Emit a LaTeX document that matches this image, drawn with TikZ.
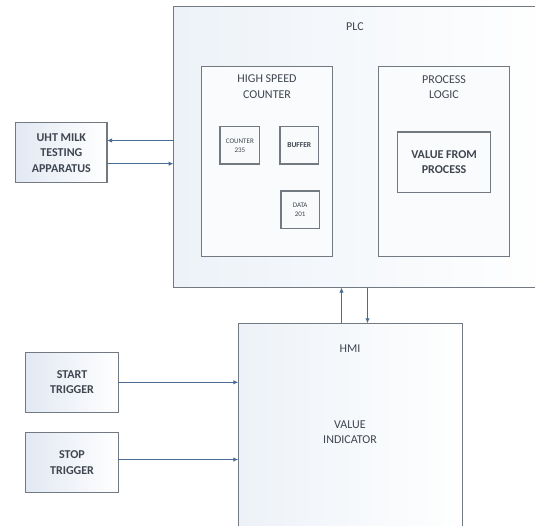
\documentclass[tikz,border=0pt]{standalone}
\usepackage{fontspec}
\setmainfont{Carlito}
\usetikzlibrary{arrows.meta}
\definecolor{edge}{HTML}{737980}
\definecolor{arrowc}{HTML}{4A6B92}
\definecolor{txt}{HTML}{3F4650}
\definecolor{shade}{HTML}{E2E9F3}
\definecolor{paleshade}{HTML}{EDF2F8}
\tikzset{
  anybox/.style={draw=edge, line width=1.35pt, rectangle, inner sep=0pt, outer sep=0pt,
    align=center, text=txt},
  outerbox/.style={anybox, left color=shade, right color=white,
    font=\fontsize{12}{15.5}\selectfont\bfseries},
  bigbox/.style={anybox, left color=paleshade, right color=white!97!paleshade},
  innerbox/.style={anybox, fill=white!70!paleshade},
  smallbox/.style={anybox, fill=white!60!paleshade, font=\fontsize{7}{9}\selectfont},
  lbl/.style={align=center, text=txt, inner sep=0pt, font=\fontsize{12}{15.5}\selectfont},
  arr/.style={draw=arrowc, line width=1.2pt, -{Latex[length=5pt,width=4.5pt]}}
}
\begin{document}
\begin{tikzpicture}[x=1pt,y=-1pt]
\clip (0,0) rectangle (535,525);
\fill[white] (0,0) rectangle (535,525);
% PLC
\node[bigbox, minimum width=372, minimum height=281] (plc) at (359.5,147) {};
\node[lbl] (plclbl) at (355,27) {PLC};
% High speed counter
\node[innerbox, minimum width=131, minimum height=190] (hsc) at (267,161.7) {};
\node[lbl] (hsclbl) at (267,86.5) {HIGH SPEED\\COUNTER};
\node[smallbox, minimum width=39.7, minimum height=37.3] (cnt) at (239.85,145.35) {COUNTER\\235};
\node[smallbox, minimum width=38.5, minimum height=37.3, font=\fontsize{7.5}{9}\selectfont\bfseries] (buf) at (299.25,145.35) {BUFFER};
\node[smallbox, minimum width=38.3, minimum height=37.3] (data) at (300.15,209.65) {DATA\\201};
% Process logic
\node[innerbox, minimum width=131, minimum height=190] (pl) at (444,161.7) {};
\node[lbl] (pllbl) at (444,87) {PROCESS\\LOGIC};
\node[innerbox, minimum width=93.2, minimum height=60.7, font=\fontsize{12}{15.5}\selectfont\bfseries] (vfp) at (444.1,162.35) {VALUE FROM\\PROCESS};
% UHT
\node[outerbox, minimum width=91.3, minimum height=60] (uht) at (61.35,152.7) {UHT MILK\\TESTING\\APPARATUS};
% HMI
\node[bigbox, minimum width=224.4, minimum height=221.7] (hmi) at (350.5,434.15) {};
\node[lbl] (hmilbl) at (350,349) {HMI};
\node[lbl] (vi) at (350,432) {VALUE\\INDICATOR};
% Triggers
\node[outerbox, minimum width=92.6, minimum height=60] (start) at (72,382.3) {START\\TRIGGER};
\node[outerbox, minimum width=92.6, minimum height=60] (stop) at (72,462.7) {STOP\\TRIGGER};
% Connectors
\draw[arr] (plc.west |- 0,140.5) -- (uht.east |- 0,140.5);
\draw[arr] (uht.east |- 0,163.7) -- (plc.west |- 0,163.7);
\draw[arr] (hmi.north -| 341.5,0) -- (plc.south -| 341.5,0);
\draw[arr] (plc.south -| 367.5,0) -- (hmi.north -| 367.5,0);
\draw[arr] (start.east) -- (hmi.west |- start.east);
\draw[arr] (stop.east |- 0,459.5) -- (hmi.west |- 0,459.5);
\end{tikzpicture}
\end{document}
